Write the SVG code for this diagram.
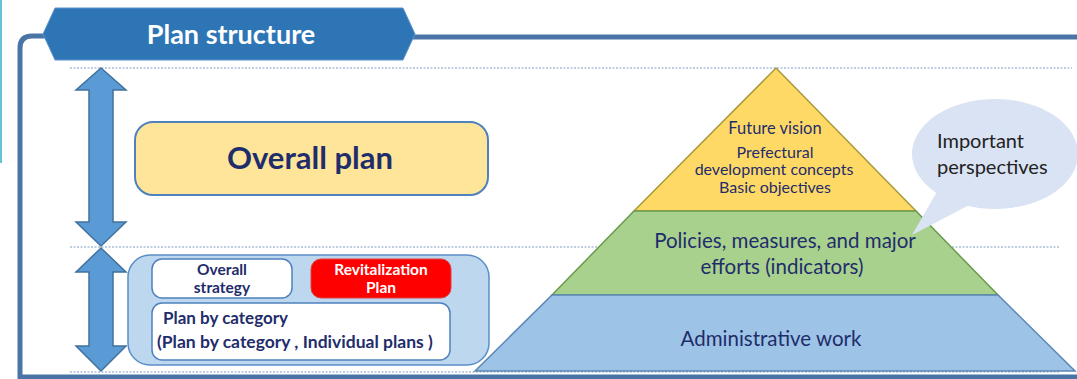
<svg xmlns="http://www.w3.org/2000/svg" width="1077" height="379" viewBox="0 0 1077 379">
<style>
.frame{fill:none;stroke:#4a74a6;stroke-width:5}
.dot{stroke:#a9bfd6;stroke-width:1.5;stroke-dasharray:2 1.5}
.arrow{fill:#5b9bd5;stroke:#41719c;stroke-width:1.5}
.navyb{font-family:Lato,"Liberation Sans",sans-serif;font-weight:bold;fill:#1f2d6b}
.navy{font-family:Lato,"Liberation Sans",sans-serif;fill:#1f2d6b}
.box{fill:#ffffff;stroke:#4f81bd;stroke-width:1.5}
</style>
<rect width="1077" height="379" fill="#ffffff"/>
<line x1="1" y1="0" x2="1" y2="163" stroke="#64c3d9" stroke-width="2"/>
<g id="frame">
<path class="frame" d="M50,36 L32,36 Q20,36 20,48 L20,377 L1077,377"/>
<line class="frame" x1="410" y1="37" x2="1077" y2="37"/>
</g>
<g id="guides">
<line class="dot" x1="70" y1="68" x2="1072" y2="68"/>
<line class="dot" x1="70" y1="247" x2="1060" y2="247"/>
<line class="dot" x1="70" y1="372" x2="1060" y2="372"/>
</g>
<g id="header">
<polygon points="43,34 55,8 403,8 415,34 403,60 55,60" fill="#2e75b6" stroke="#5a93cc" stroke-width="1"/>
<text x="231" y="44" text-anchor="middle" font-family="Lato,'Liberation Sans',sans-serif" font-weight="bold" font-size="27" fill="#ffffff">Plan structure</text>
</g>
<g id="connectors">
<polygon class="arrow" points="101,68 126,90 113,90 113,222 126,222 101,246 76,222 89,222 89,90 76,90"/>
<polygon class="arrow" points="101,248 126,272 113,272 113,346 126,346 101,371 76,346 89,346 89,272 76,272"/>
</g>
<g id="overall-plan">
<rect x="135" y="122" width="353" height="73" rx="18" fill="#fee599" stroke="#4f81bd" stroke-width="2"/>
<text class="navyb" x="310" y="169" text-anchor="middle" font-size="31">Overall plan</text>
</g>
<g id="sub-plans">
<rect x="128" y="255" width="361" height="110" rx="22" fill="#bdd7ee" stroke="#5b8fc8" stroke-width="1.5"/>
</g>
<g id="overall-strategy">
<rect class="box" x="152" y="259" width="140" height="39" rx="10"/>
<text class="navyb" x="222" y="275" text-anchor="middle" font-size="15.5">Overall</text>
<text class="navyb" x="222" y="293" text-anchor="middle" font-size="15.5">strategy</text>
</g>
<g id="revitalization-plan">
<rect x="311" y="259" width="140" height="39" rx="10" fill="#ff0000" stroke="#e04040" stroke-width="1"/>
<text x="381" y="275" text-anchor="middle" font-family="Lato,'Liberation Sans',sans-serif" font-weight="bold" font-size="15.5" fill="#ffffff">Revitalization</text>
<text x="381" y="293" text-anchor="middle" font-family="Lato,'Liberation Sans',sans-serif" font-weight="bold" font-size="15.5" fill="#ffffff">Plan</text>
</g>
<g id="plan-by-category">
<rect class="box" x="152" y="303" width="298" height="57" rx="10"/>
<text class="navyb" x="163" y="324" font-size="17">Plan by category</text>
<text class="navyb" x="157" y="348" font-size="17.5">(Plan by category , Individual plans )</text>
</g>
<g id="pyramid-top">
<polygon points="776,68 916,211 634,211" fill="#ffd966" stroke="#a89a3a" stroke-width="1.5"/>
<text class="navy" x="775" y="134" text-anchor="middle" font-size="16.5">Future vision</text>
<text class="navy" x="775" y="158" text-anchor="middle" font-size="16">Prefectural</text>
<text class="navy" x="774" y="175" text-anchor="middle" font-size="16">development concepts</text>
<text class="navy" x="775" y="193" text-anchor="middle" font-size="16">Basic objectives</text>
</g>
<g id="pyramid-middle">
<polygon points="634,211 916,211 998,295 552,295" fill="#a9d18e" stroke="#6a9a4c" stroke-width="1.5"/>
<text class="navy" x="785" y="248" text-anchor="middle" font-size="20.5">Policies, measures, and major</text>
<text class="navy" x="782" y="274" text-anchor="middle" font-size="20.5">efforts (indicators)</text>
</g>
<g id="pyramid-base">
<polygon points="552,295 998,295 1075,371 475,371" fill="#9dc3e6" stroke="#5b87b5" stroke-width="1.5"/>
<text class="navy" x="771" y="346" text-anchor="middle" font-size="20.5">Administrative work</text>
</g>
<g id="important-perspectives">
<polygon points="912,235 938,190 975,202" fill="#dae3f3"/>
<ellipse cx="995" cy="154" rx="83" ry="55" fill="#dae3f3"/>
<text x="937" y="148" font-family="Lato,'Liberation Sans',sans-serif" font-size="20" fill="#222222">Important</text>
<text x="937" y="174" font-family="Lato,'Liberation Sans',sans-serif" font-size="20" fill="#222222">perspectives</text>
</g>
</svg>
